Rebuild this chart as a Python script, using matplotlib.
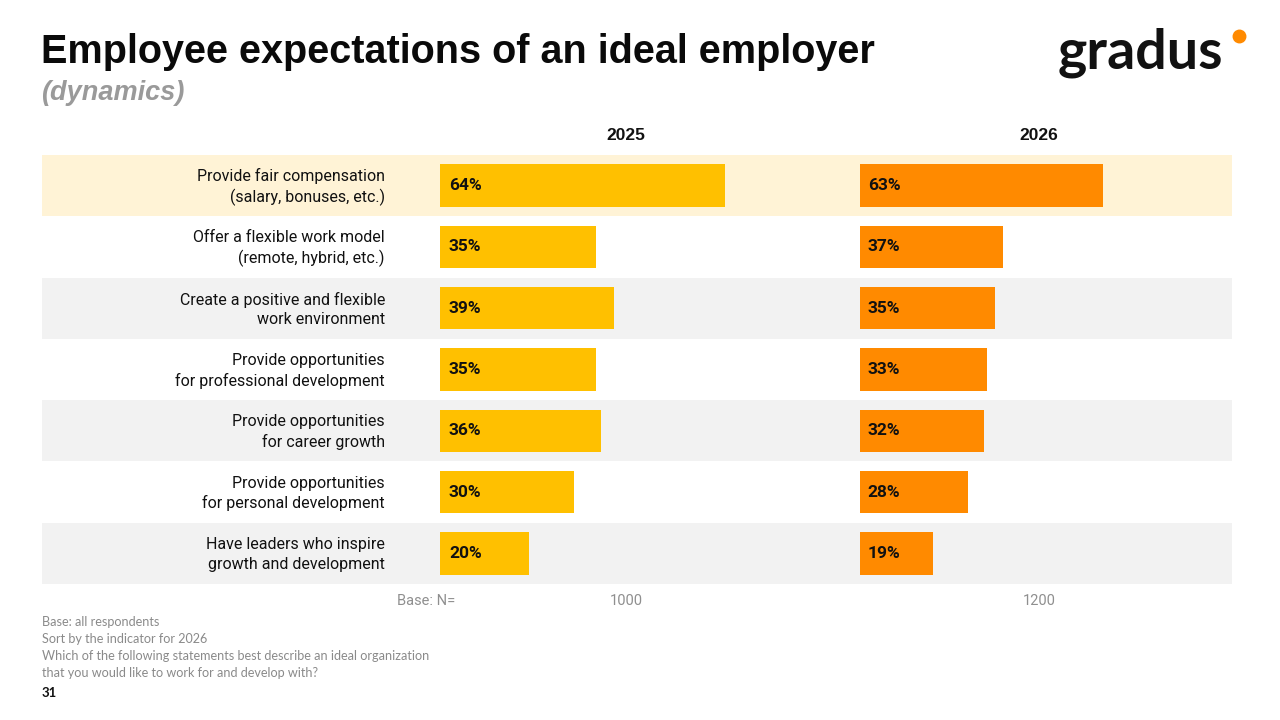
import matplotlib
matplotlib.use("Agg")
import matplotlib.pyplot as plt
from matplotlib.lines import Line2D

categories = [
    "Provide fair compensation\n(salary, bonuses, etc.)",
    "Offer a flexible work model\n(remote, hybrid, etc.)",
    "Create a positive and flexible\nwork environment",
    "Provide opportunities\nfor professional development",
    "Provide opportunities\nfor career growth",
    "Provide opportunities\nfor personal development",
    "Have leaders who inspire\ngrowth and development",
]
values_2025 = [64, 35, 39, 35, 36, 30, 20]
values_2026 = [63, 37, 35, 33, 32, 28, 19]
years = ["2025", "2026"]
base_n = ["1000", "1200"]
row_colors = ["#FFF3D6", "#FFFFFF", "#F2F2F2", "#FFFFFF", "#F2F2F2", "#FFFFFF", "#F2F2F2"]
bar_colors = ["#FFC000", "#FF8A00"]

W, H = 1280, 720
fig = plt.figure(figsize=(12.8, 7.2), dpi=100)
fig.patch.set_facecolor("white")

def fx(px):
    return px / W

def fy(py):
    return 1 - py / H

label_font = "Roboto"

n = len(categories)
top, bottom = 155, 584

# background rows axis
ax_bg = fig.add_axes([fx(42), fy(bottom), fx(1232 - 42), (bottom - top) / H])
ax_bg.set_xlim(0, 1)
ax_bg.set_ylim(n - 0.5, -0.5)
for i, c in enumerate(row_colors):
    ax_bg.axhspan(i - 0.5, i + 0.5, color=c, lw=0)
ax_bg.axis("off")
for i, lab in enumerate(categories):
    ax_bg.text((385 - 42) / (1232 - 42), i + 0.02, lab, ha="right", va="center",
               fontsize=11.5, family=label_font, color="#111111", linespacing=1.35)

panels = [(440, 812, 4.46), (860, 1218, 3.86)]
series = [values_2025, values_2026]
for k, ((x0, x1, pxper), vals) in enumerate(zip(panels, series)):
    ax = fig.add_axes([fx(x0), fy(bottom), fx(x1 - x0), (bottom - top) / H])
    ax.patch.set_alpha(0)
    ax.set_xlim(0, (x1 - x0) / pxper)
    ax.set_ylim(n - 0.5, -0.5)
    ax.barh(range(n), vals, height=0.69, color=bar_colors[k], lw=0)
    for i, v in enumerate(vals):
        ax.text(2.0, i, f"{v}%", ha="left", va="center", fontsize=12.5,
                fontweight="bold", family="Roboto", color="#111111")
    ax.axis("off")
    xc = (x0 + x1) / 2
    fig.text(fx(xc), fy(135), years[k], ha="center", va="center", fontsize=12.5,
             fontweight="bold", family="Liberation Sans", color="#111111")
    fig.text(fx(xc), fy(601), base_n[k], ha="center", va="center", fontsize=10.5,
             family=label_font, color="#8f8f8f")

fig.text(fx(455), fy(601), "Base: N=", ha="right", va="center", fontsize=10.5,
         family=label_font, color="#8f8f8f")

# title
fig.text(fx(41), fy(52), "Employee expectations of an ideal employer", ha="left", va="center",
         fontsize=28.5, fontweight="bold", family="Liberation Sans", color="#0a0a0a")
fig.text(fx(41), fy(93), "(dynamics)", ha="left", va="center", fontsize=19.5,
         fontweight="bold", style="italic", family="Liberation Sans", color="#9a9a9a")

# logo
fig.text(fx(1058), fy(53), "gradus", ha="left", va="center", fontsize=40,
         family="Lato", fontweight="bold", color="#111111")
fig.add_artist(Line2D([fx(1239)], [fy(36)], marker="o", markersize=9,
                      color="#FF8A00", transform=fig.transFigure))

notes = ["Base: all respondents",
         "Sort by the indicator for 2026",
         "Which of the following statements best describe an ideal organization",
         "that you would like to work for and develop with?"]
for j, t in enumerate(notes):
    fig.text(fx(42), fy(622 + 17 * j), t, ha="left", va="center", fontsize=9.1,
             family="Lato", color="#8a8a8a")
fig.text(fx(42), fy(693), "31", ha="left", va="center", fontsize=9.5,
         fontweight="bold", family="Lato", color="#111111")

fig.savefig("out.png", dpi=100, facecolor="white")
